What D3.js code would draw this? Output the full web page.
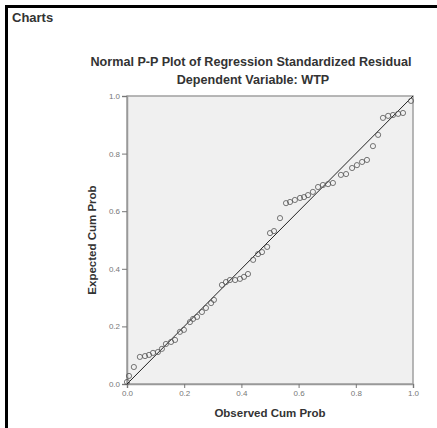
<!DOCTYPE html>
<html>
<head>
<meta charset="utf-8">
<script src="https://cdn.jsdelivr.net/npm/d3@7"></script>
<style>
  body { margin: 0; background: #fff; }
  text { font-family: "Liberation Sans", Arial, sans-serif; }
</style>
</head>
<body>
<div id="chart"></div>
<script>
// Observed vs expected cumulative probabilities
const observed = [0.000, 0.007, 0.024, 0.045, 0.063, 0.077, 0.091, 0.108, 0.122, 0.136,
                  0.154, 0.168, 0.185, 0.199, 0.220, 0.231, 0.245, 0.262, 0.276, 0.294,
                  0.304, 0.332, 0.346, 0.360, 0.378, 0.395, 0.409, 0.423, 0.441, 0.458,
                  0.472, 0.490, 0.500, 0.514, 0.535, 0.556, 0.570, 0.587, 0.605, 0.619,
                  0.633, 0.650, 0.668, 0.685, 0.703, 0.720, 0.748, 0.766, 0.787, 0.804,
                  0.822, 0.839, 0.860, 0.878, 0.895, 0.913, 0.930, 0.948, 0.965, 0.993];
const expected = [0.007, 0.028, 0.059, 0.094, 0.097, 0.101, 0.108, 0.111, 0.122, 0.139,
                  0.146, 0.153, 0.181, 0.188, 0.215, 0.226, 0.233, 0.250, 0.264, 0.281,
                  0.292, 0.344, 0.354, 0.361, 0.361, 0.365, 0.372, 0.382, 0.431, 0.451,
                  0.458, 0.476, 0.524, 0.531, 0.576, 0.628, 0.632, 0.639, 0.646, 0.649,
                  0.656, 0.667, 0.684, 0.691, 0.694, 0.698, 0.726, 0.729, 0.750, 0.760,
                  0.771, 0.778, 0.826, 0.865, 0.924, 0.931, 0.934, 0.938, 0.941, 0.983];
const tickValues = [0, 0.2, 0.4, 0.6, 0.8, 1.0];

const W = 437, H = 428;
const plot = { left: 127, top: 96, right: 413, bottom: 384 };

const svg = d3.select("#chart").append("svg")
    .attr("width", W)
    .attr("height", H);

// outer frame of the output viewer
svg.append("path")
    .attr("d", `M6.5,${H} V6.5 H${W}`)
    .attr("fill", "none")
    .attr("stroke", "#000")
    .attr("stroke-width", 3);

svg.append("text")
    .attr("x", 12)
    .attr("y", 22)
    .style("font-size", "13px")
    .style("font-weight", "bold")
    .attr("fill", "#333")
    .text("Charts");

// titles
svg.append("text")
    .attr("x", 251)
    .attr("y", 66)
    .attr("text-anchor", "middle")
    .style("font-size", "12.6px")
    .style("font-weight", "bold")
    .attr("fill", "#333")
    .text("Normal P-P Plot of Regression Standardized Residual");

svg.append("text")
    .attr("x", 253)
    .attr("y", 84)
    .attr("text-anchor", "middle")
    .style("font-size", "12.6px")
    .style("font-weight", "bold")
    .attr("fill", "#333")
    .text("Dependent Variable: WTP");

const x = d3.scaleLinear().domain([0, 1]).range([plot.left, plot.right]);
const y = d3.scaleLinear().domain([0, 1]).range([plot.bottom, plot.top]);

// plot background
svg.append("rect")
    .attr("x", plot.left)
    .attr("y", plot.top)
    .attr("width", plot.right - plot.left)
    .attr("height", plot.bottom - plot.top)
    .attr("fill", "#f0f0f0")
    .attr("stroke", "#a0a0a0")
    .attr("stroke-width", 1.5);

// axes
const fmt = d3.format(".1f");
const xAxis = svg.append("g")
    .attr("transform", `translate(0,${plot.bottom})`)
    .call(d3.axisBottom(x).tickValues(tickValues).tickFormat(fmt).tickSize(4).tickPadding(2));
const yAxis = svg.append("g")
    .attr("transform", `translate(${plot.left},0)`)
    .call(d3.axisLeft(y).tickValues(tickValues).tickFormat(fmt).tickSize(5).tickPadding(2));

[xAxis, yAxis].forEach(g => {
    g.select(".domain").attr("stroke", "#999").attr("stroke-width", 1.5);
    g.selectAll(".tick line").attr("stroke", "#777");
    g.selectAll(".tick text")
        .attr("fill", "#777")
        .style("font-size", "8px")
        .style("font-family", "Liberation Sans, Arial, sans-serif");
});

// axis labels
svg.append("text")
    .attr("x", 270)
    .attr("y", 417)
    .attr("text-anchor", "middle")
    .style("font-size", "11.5px")
    .style("font-weight", "bold")
    .attr("fill", "#333")
    .text("Observed Cum Prob");

svg.append("text")
    .attr("transform", `translate(96,${(plot.top + plot.bottom) / 2}) rotate(-90)`)
    .attr("text-anchor", "middle")
    .style("font-size", "11.5px")
    .style("font-weight", "bold")
    .attr("fill", "#333")
    .text("Expected Cum Prob");

// reference diagonal
svg.append("line")
    .attr("x1", x(0)).attr("y1", y(0))
    .attr("x2", x(1)).attr("y2", y(1))
    .attr("stroke", "#222")
    .attr("stroke-width", 1);

// points
const data = observed.map((o, i) => ({ obs: o, exp: expected[i] }));
svg.append("g")
    .selectAll("circle")
    .data(data)
    .enter()
    .append("circle")
    .attr("cx", d => x(d.obs))
    .attr("cy", d => y(d.exp))
    .attr("r", 2.6)
    .attr("fill", "none")
    .attr("stroke", "#555")
    .attr("stroke-width", 0.8);
</script>
</body>
</html>
